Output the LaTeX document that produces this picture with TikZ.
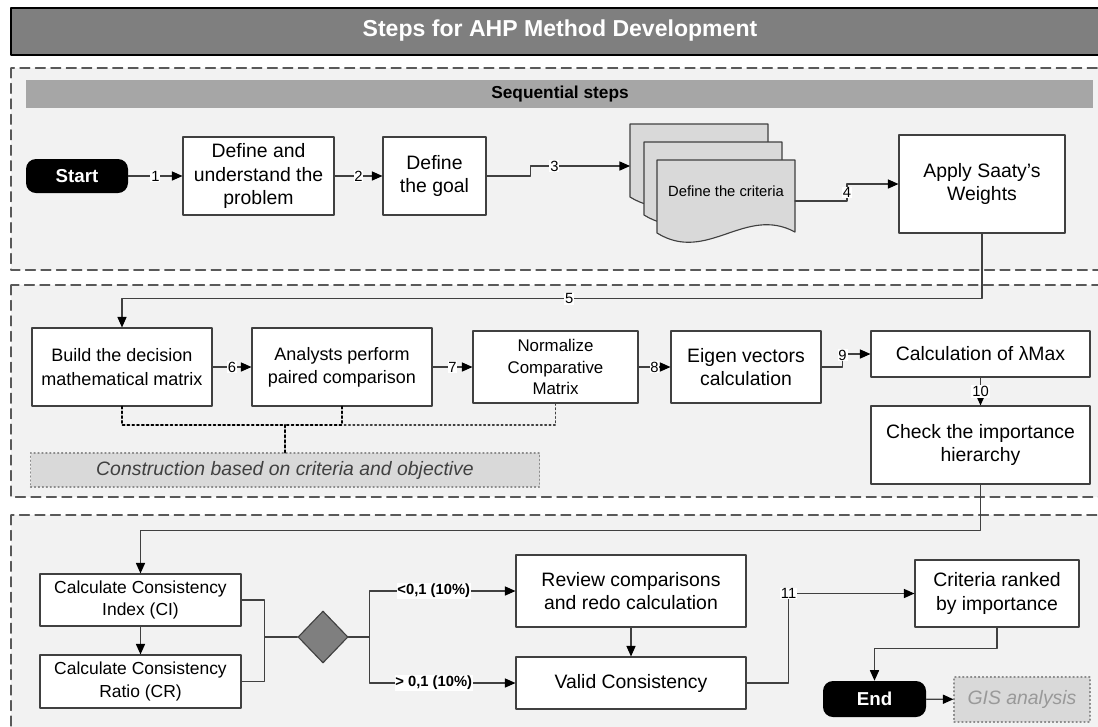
\documentclass[tikz,border=0pt]{standalone}
\usepackage{fontspec}
\setmainfont{Liberation Sans}
\usetikzlibrary{arrows.meta,shapes.geometric}
\newdimen\px \px=0.025cm
\definecolor{titlegray}{HTML}{7F7F7F}
\definecolor{bargray}{HTML}{A6A6A6}
\definecolor{panel}{HTML}{F2F2F2}
\definecolor{sheet}{HTML}{D9D9D9}
\definecolor{edge}{HTML}{404040}
\begin{document}
\begin{tikzpicture}[line cap=round,line join=round,>={Triangle[length=7.5pt,width=6.5pt,color=black]},x=0.025cm,y=-0.025cm,scale=1,
  box/.style={draw=edge,fill=white,line width=0.8pt,align=center,inner sep=1pt,font=\fontsize{13.8}{16.5}\selectfont},
  term/.style={fill=black,rounded corners=10\px,text=white,font=\bfseries\fontsize{13.3}{15}\selectfont},
  panelbox/.style={draw=black!65,fill=panel,line width=0.9pt,dash pattern=on 7pt off 4pt},
  note/.style={draw=black!45,fill=sheet,dotted,line width=0.8pt,font=\itshape\fontsize{13.8}{16}\selectfont},
  conn/.style={draw=edge,line width=0.8pt},
  lbl/.style={fill=white,inner sep=0.6pt,font=\fontsize{10.5}{11}\selectfont},
  cond/.style={lbl,font=\bfseries\fontsize{10.5}{11}\selectfont},
  doc/.style={draw=edge,fill=sheet,line width=0.8pt}]
\clip (0,0) rectangle (1098,726);
\fill[white] (0,0) rectangle (1098,726);
\draw[draw=black,line width=1.6pt,fill=titlegray] (11,8) rectangle (1110,55);
\node[text=white,font=\bfseries\fontsize{16.4}{18}\selectfont] (title) at (560,31) {Steps for AHP Method Development};
\draw[panelbox] (11,68) rectangle (1110,270);
\draw[panelbox] (11,285) rectangle (1110,497);
\draw[panelbox] (11,515) rectangle (1110,740);
\fill[bargray] (26,80) rectangle (1093,108);
\node[font=\bfseries\fontsize{12.3}{14}\selectfont] (seq) at (560,94) {Sequential steps};
\node[term,minimum width=102\px,minimum height=34\px] (start) at (77,176) {Start};
\node[box,minimum width=151\px,minimum height=78\px] (prob) at (258.5,176) {Define and\\understand the\\problem};
\node[box,minimum width=103\px,minimum height=78\px] (goal) at (434.5,176) {Define\\the goal};
\draw[doc] (630,124) -- (768,124) -- (768,196) .. controls (718,169) and (680,228) .. (630,197) -- cycle;
\draw[doc] (644,142) -- (782,142) -- (782,214) .. controls (732,187) and (694,246) .. (644,215) -- cycle;
\draw[doc] (657,160) -- (795,160) -- (795,232) .. controls (745,205) and (707,264) .. (657,233) -- cycle;
\node[font=\fontsize{10.5}{12}\selectfont] (crit) at (726,191) {Define the criteria};
\coordinate (docin) at (630,166);
\coordinate (docout) at (795,201);
\node[box,minimum width=166\px,minimum height=98\px] (apply) at (982,184) {Apply Saaty's\\Weights};
\node[box,minimum width=180\px,minimum height=78\px,font=\fontsize{12.8}{16.5}\selectfont] (build) at (122,367) {Build the decision\\mathematical matrix};
\node[box,minimum width=180\px,minimum height=78\px,font=\fontsize{12.8}{16.5}\selectfont] (anal) at (342,367) {Analysts perform\\paired comparison};
\node[box,minimum width=165\px,minimum height=72\px,font=\fontsize{12}{15.4}\selectfont] (norm) at (555.5,367) {Normalize\\Comparative\\Matrix};
\node[box,minimum width=150\px,minimum height=72\px] (eigen) at (746,367) {Eigen vectors\\calculation};
\node[box,minimum width=219\px,minimum height=46\px] (lmax) at (980.5,354) {Calculation of λMax};
\node[box,minimum width=219\px,minimum height=78\px] (check) at (980.5,445) {Check the importance\\hierarchy};
\node[note,text=edge,minimum width=509\px,minimum height=34\px] (constr) at (285,470) {Construction based on criteria and objective};
\coordinate (junc) at (285,425);
\node[box,minimum width=201\px,minimum height=52\px,font=\fontsize{12.4}{16}\selectfont] (ci) at (140.5,600) {Calculate Consistency\\Index (CI)};
\node[box,minimum width=201\px,minimum height=53\px,font=\fontsize{12.4}{16}\selectfont] (cr) at (140.5,681.5) {Calculate Consistency\\Ratio (CR)};
\node[diamond,draw=edge,fill=titlegray,line width=0.8pt,inner sep=0pt,minimum width=50\px,minimum height=52\px] (dia) at (323,637) {};
\node[box,minimum width=230\px,minimum height=72\px] (review) at (631,591) {Review comparisons\\and redo calculation};
\node[box,minimum width=230\px,minimum height=52\px] (valid) at (631,683) {Valid Consistency};
\node[box,minimum width=164\px,minimum height=67\px] (rank) at (997,593.5) {Criteria ranked\\by importance};
\node[term,minimum width=103\px,minimum height=36\px] (endn) at (874.5,699) {End};
\node[note,text=black!40,minimum width=136\px,minimum height=45\px] (gis) at (1022,699.5) {GIS analysis};
\draw[conn,->] (start) -- node[lbl]{1} (prob);
\draw[conn,->] (prob) -- node[lbl]{2} (goal);
\draw[conn,->] (goal.east) -- ++(44,0) |- node[lbl,pos=0.62]{3} (docin);
\draw[conn,->] (docout) -- ++(52,0) |- node[lbl,pos=0.25]{4} (apply.west);
\draw[conn,->] (apply.south) -- ++(0,65) -| node[lbl,pos=0.24]{5} (build.north);
\draw[conn,->] (build) -- node[lbl]{6} (anal);
\draw[conn,->] (anal) -- node[lbl]{7} (norm);
\draw[conn,->] (norm) -- node[lbl]{8} (eigen);
\draw[conn,->] (eigen.east) -- ++(21,0) |- node[lbl,pos=0.45]{9} (lmax.west);
\draw[conn,->] (lmax) -- node[lbl]{10} (check);
\draw[draw=edge,dotted,line width=1.1pt] (norm.south) |- (anal.south |- junc);
\draw[draw=black,dotted,line width=1.4pt] (build.south) |- (junc);
\draw[draw=black,dotted,line width=1.4pt] (anal.south) |- (junc);
\draw[draw=black,dotted,line width=1.6pt] (junc) -- (constr.north);
\draw[conn,->] (check.south) -- ++(0,46) -| (ci.north);
\draw[conn,->] (ci) -- (cr);
\draw[conn] (ci.east) -- ++(23,0) coordinate (brk) |- (cr.east);
\draw[conn] (dia.west) -- (dia.west -| brk);
\draw[conn,->] (dia.east) -- ++(21,0) |- node[cond,pos=0.72]{<0,1 (10\%)} (review.west);
\draw[conn,->] (dia.east) -- ++(21,0) |- node[cond,pos=0.72]{> 0,1 (10\%)} (valid.west);
\draw[conn,->] (review) -- (valid);
\draw[conn,->] (valid.east) -- ++(42,0) |- node[lbl,pos=0.5]{11} (rank.west);
\draw[conn,->] (rank.south) -- ++(0,21) -| (endn.north);
\draw[conn,->] (endn) -- (gis);
\end{tikzpicture}
\end{document}
